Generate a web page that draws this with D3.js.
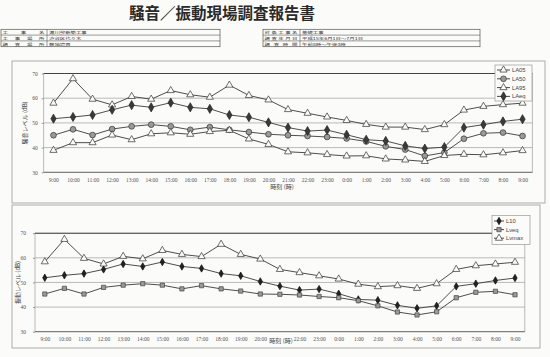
<!DOCTYPE html>
<html><head><meta charset="utf-8">
<script src="https://cdn.jsdelivr.net/npm/d3@7"></script>
<style>body{margin:0;background:#fbfbf9} svg{display:block}</style>
</head><body><svg id="c" width="550" height="357"></svg>
<script>
// ---- data ----
const hours = ["9:00","10:00","11:00","12:00","13:00","14:00","15:00","16:00","17:00","18:00","19:00","20:00","21:00","22:00","23:00","0:00","1:00","2:00","3:00","4:00","5:00","6:00","7:00","8:00","9:00"];
const yTicks = [30, 40, 50, 60, 70];

const noiseNames = ["LA05", "LA50", "LA95", "LAeq"];
const LA05 = [58.0,67.9,59.6,57.3,60.7,59.6,63.1,61.4,60.4,65.3,61.1,59.3,55.4,53.9,52.4,51.0,49.4,48.3,48.3,47.3,49.3,55.2,56.7,57.4,58.0];
const LA50 = [45.0,47.4,45.1,47.5,48.6,49.3,48.6,47.2,48.3,47.2,46.3,45.4,45.0,44.7,44.3,43.7,42.5,40.5,39.2,36.6,38.0,43.6,45.8,46.1,44.7];
const LA95 = [38.9,42.0,42.0,45.1,43.2,45.6,46.0,45.4,46.5,47.0,43.5,41.3,38.3,37.9,37.2,36.6,36.7,35.4,35.0,34.4,36.8,37.3,37.1,37.9,38.8];
const LAeq = [51.7,52.4,53.2,55.3,57.2,56.3,58.2,56.3,55.7,53.2,52.3,50.2,48.1,46.7,47.1,45.2,43.2,42.7,40.7,39.6,40.2,48.1,49.3,50.6,51.5];

const vibNames = ["L10", "Lveq", "Lvmax"];
const L10   = [51.9,52.9,53.6,55.3,57.5,56.5,58.3,56.5,55.7,53.6,52.7,50.4,48.5,46.9,47.3,45.4,43.1,42.8,40.7,39.5,40.5,48.4,49.5,50.8,51.8];
const Lveq  = [45.3,47.6,45.3,48.0,48.9,49.5,48.9,47.4,48.7,47.4,46.5,45.3,45.2,44.9,44.3,43.8,42.6,40.5,38.0,36.8,38.1,43.8,46.0,46.4,45.0];
const Lvmax = [58.4,67.5,59.8,57.5,60.6,59.6,63.0,61.4,60.5,65.5,61.4,59.5,55.3,54.0,52.7,51.4,49.3,48.3,48.7,47.6,49.5,55.3,56.8,57.5,58.2];

const title = "騒音／振動現場調査報告書";
const leftRows = [["工事名","滝川邸新築工事"],["工事場所","渋谷区代々木"],["調査場所","敷地境界"]];
const rightRows = [["対象工事名","基礎工事"],["調査年月日","平成15年6月1日～7月1日"],["調査時間","午前8時～午後3時"]];

// ---- drawing ----
const svg = d3.select("#c");
svg.append("rect").attr("width",550).attr("height",357).attr("fill","#fbfbf9");

svg.append("text").attr("x",222).attr("y",18.5).attr("text-anchor","middle")
  .attr("font-family","'Noto Sans CJK JP'").attr("font-weight",700)
  .attr("font-size",15.5).attr("fill","#2a2a2a").text(title);

function drawTable(x0, x1, xs, y0, rh, rows){
  const g = svg.append("g");
  g.append("rect").attr("x",x0).attr("y",y0).attr("width",x1-x0).attr("height",rh*rows.length)
    .attr("fill","none").attr("stroke","#555").attr("stroke-width",0.7);
  g.append("line").attr("x1",xs).attr("x2",xs).attr("y1",y0).attr("y2",y0+rh*rows.length)
    .attr("stroke","#555").attr("stroke-width",0.6);
  const fs = 5.4, sy = 0.7;
  rows.forEach((r,i)=>{
    if(i>0) g.append("line").attr("x1",x0).attr("x2",x1).attr("y1",y0+rh*i).attr("y2",y0+rh*i)
      .attr("stroke","#555").attr("stroke-width",0.6);
    const base = y0 + rh*i + rh - 1.1;
    g.append("text").attr("transform",`translate(${x0+1.5},${base}) scale(1,${sy})`)
      .attr("font-size",fs).attr("font-family","'Noto Sans CJK JP'").attr("fill","#333")
      .attr("textLength",xs-x0-4).attr("lengthAdjust","spacing").text(r[0]);
    g.append("text").attr("transform",`translate(${xs+2},${base}) scale(1,${sy})`)
      .attr("font-size",fs).attr("font-family","'Noto Sans CJK JP'").attr("fill","#333").text(r[1]);
  });
}
drawTable(1, 220, 47, 29.3, 5.8, leftRows);
drawTable(263, 480, 300, 29.3, 5.8, rightRows);

const sym = {
  triOpen:  {type:d3.symbolTriangle, size:22, fill:"#fbfbf9", stroke:"#333"},
  circGrey: {type:d3.symbolCircle,   size:26, fill:"#9a9a9a", stroke:"#333"},
  diaDark:  {type:d3.symbolDiamond,  size:24, fill:"#3a3a3a", stroke:"#222"},
  dotBlack: {type:d3.symbolDiamond,  size:16, fill:"#222",    stroke:"#111"},
  sqGrey:   {type:d3.symbolSquare,   size:18, fill:"#9a9a9a", stroke:"#444"}
};

function drawChart(cfg){
  const {box, plot, series, yTitle, yTitleX, xTitle, xTitleY, xTitleX, legend, hideIdx} = cfg;
  const g = svg.append("g");
  g.append("rect").attr("x",box[0]).attr("y",box[1]).attr("width",box[2]).attr("height",box[3])
    .attr("fill","none").attr("stroke","#999").attr("stroke-width",0.8);

  const x = d3.scalePoint().domain(d3.range(hours.length)).range([plot.l, plot.r]).padding(0.5);
  const y = d3.scaleLinear().domain([30,70]).range([plot.b, plot.t]);

  g.append("rect").attr("x",plot.l).attr("y",plot.t).attr("width",plot.r-plot.l).attr("height",plot.b-plot.t)
    .attr("fill","none").attr("stroke","#aaa").attr("stroke-width",0.8);
  g.selectAll(".grid").data([40,50,60]).join("line")
    .attr("x1",plot.l).attr("x2",plot.r).attr("y1",d=>y(d)).attr("y2",d=>y(d))
    .attr("stroke","#9d9d9d").attr("stroke-width",0.7);
  g.append("line").attr("x1",plot.l).attr("x2",plot.r).attr("y1",y(70)).attr("y2",y(70))
    .attr("stroke","#444").attr("stroke-width",1.1);
  g.append("line").attr("x1",plot.l).attr("x2",plot.r).attr("y1",y(30)).attr("y2",y(30))
    .attr("stroke","#666").attr("stroke-width",0.9);

  const ya = d3.axisLeft(y).tickValues(yTicks).tickSize(2).tickPadding(plot.yPad).tickFormat(d3.format("d"));
  const yg = g.append("g").attr("transform",`translate(${plot.l},0)`).call(ya);
  yg.select(".domain").remove();
  yg.selectAll("line").attr("stroke","#999");
  yg.selectAll("text").attr("font-size",5.5).attr("font-family","'Liberation Serif'").attr("fill","#555");

  const xa = d3.axisBottom(x).tickSize(0).tickPadding(5.5).tickFormat(i=>hours[i])
    .tickValues(d3.range(hours.length).filter(i=>i!==hideIdx));
  const xg = g.append("g").attr("transform",`translate(0,${plot.b})`).call(xa);
  xg.select(".domain").remove();
  xg.selectAll("text").attr("font-size",5.5).attr("font-family","'Liberation Serif'").attr("fill","#555");

  g.append("text").attr("transform",`translate(${yTitleX},${(plot.t+plot.b)/2}) rotate(-90)`)
    .attr("text-anchor","middle").attr("font-size",6).attr("font-family","'Noto Sans CJK JP'")
    .attr("fill","#444").text(yTitle);
  g.append("text").attr("x",xTitleX).attr("y",xTitleY).attr("text-anchor","middle")
    .attr("font-size",6).attr("font-family","'Noto Sans CJK JP'").attr("fill","#444").text(xTitle);

  const line = d3.line().x((d,i)=>x(i)).y(d=>y(d));
  series.forEach(s=>{
    g.append("path").datum(s.values).attr("d",line).attr("fill","none")
      .attr("stroke","#3a3a3a").attr("stroke-width",0.9);
  });
  series.forEach(s=>{
    const st = sym[s.sym];
    g.selectAll(null).data(s.values).join("path")
      .attr("transform",(d,i)=>`translate(${x(i)},${y(d)})`)
      .attr("d",d3.symbol().type(st.type).size(st.size)())
      .attr("fill",st.fill).attr("stroke",st.stroke).attr("stroke-width",0.7);
  });

  const lg = g.append("g");
  lg.append("rect").attr("x",legend.x).attr("y",legend.y).attr("width",legend.w).attr("height",legend.h)
    .attr("fill","#fbfbf9").attr("stroke","#999").attr("stroke-width",0.7);
  legend.items.forEach((s,i)=>{
    const yy = legend.y0 + i*legend.dy;
    lg.append("line").attr("x1",legend.lx).attr("x2",legend.lx+legend.lw).attr("y1",yy).attr("y2",yy)
      .attr("stroke","#333").attr("stroke-width",0.9);
    const st = sym[s.sym];
    lg.append("path").attr("transform",`translate(${legend.lx+legend.lw/2},${yy})`)
      .attr("d",d3.symbol().type(st.type).size(st.size)())
      .attr("fill",st.fill).attr("stroke",st.stroke).attr("stroke-width",0.7);
    lg.append("text").attr("x",legend.lx+legend.lw+2).attr("y",yy+2)
      .attr("font-size",5.8).attr("font-family","'Liberation Sans'").attr("fill","#444").text(s.name);
  });
}

const noiseSeries = [
  {name:noiseNames[0], values:LA05, sym:"triOpen"},
  {name:noiseNames[1], values:LA50, sym:"circGrey"},
  {name:noiseNames[2], values:LA95, sym:"triOpen"},
  {name:noiseNames[3], values:LAeq, sym:"diaDark"}
];
drawChart({
  box:[12,61,533,142],
  plot:{l:43.7, r:532.3, t:73.5, b:172.3, yPad:4},
  series:noiseSeries,
  yTitle:"騒音レベル (dB)", yTitleX:27,
  xTitle:"時刻 (時)", xTitleX:282, xTitleY:189,
  hideIdx:-1,
  legend:{x:495, y:65, w:37, h:36, y0:70, dy:8.8, lx:497, lw:13, items:noiseSeries}
});

const vibSeries = [
  {name:vibNames[0], values:L10,   sym:"dotBlack"},
  {name:vibNames[1], values:Lveq,  sym:"sqGrey"},
  {name:vibNames[2], values:Lvmax, sym:"triOpen"}
];
drawChart({
  box:[12,205,528,143],
  plot:{l:35, r:524.8, t:233.2, b:331.7, yPad:7},
  series:vibSeries,
  yTitle:"振動レベル (dB)", yTitleX:20,
  xTitle:"時刻 (時)", xTitleX:281, xTitleY:343,
  hideIdx:12,
  legend:{x:492, y:215.5, w:38, h:29, y0:221, dy:8.6, lx:494, lw:10, items:vibSeries}
});
</script></body></html>
